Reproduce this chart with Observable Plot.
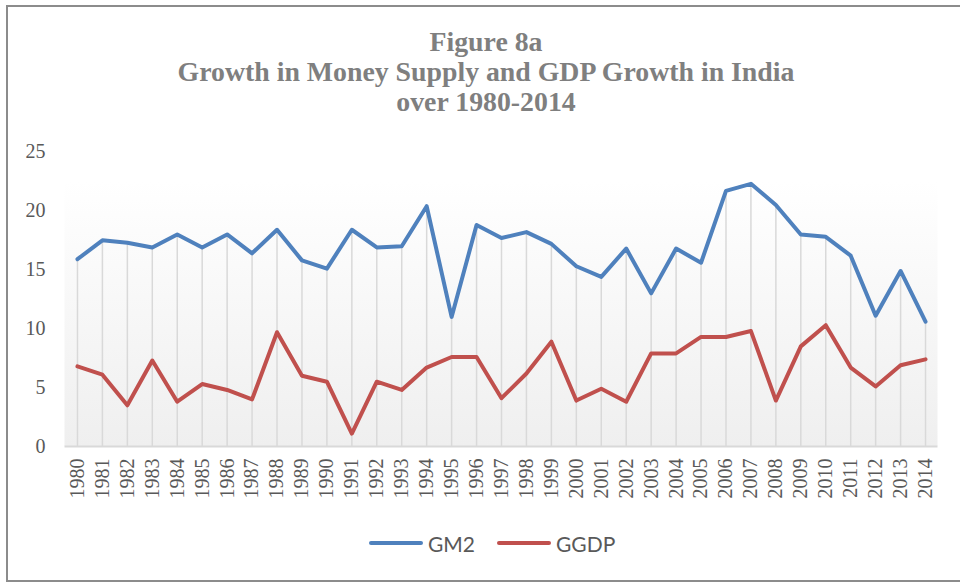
<!DOCTYPE html>
<html>
<head>
<meta charset="utf-8">
<script src="https://cdn.jsdelivr.net/npm/d3@7"></script>
<script src="https://cdn.jsdelivr.net/npm/@observablehq/plot@0.6"></script>
<style>
  html, body { margin: 0; padding: 0; background: #fff; width: 960px; height: 582px; overflow: hidden; }
  #frame { position: absolute; left: 6px; top: 5px; width: 980px; height: 577px; border: 2px solid #8c8c8c; box-sizing: border-box; }
  #title { position: absolute; left: 0; width: 972px; top: 27px; text-align: center; font-family: 'Liberation Serif'; font-weight: bold; font-size: 27.8px; line-height: 30px; color: #7f7f7f; }
  #chart { position: absolute; left: 0; top: 130px; }
  #chart svg text { font-family: 'Liberation Serif' !important; }
  #legend { position: absolute; top: 531px; left: 0; width: 960px; height: 24px; font-family: Lato, sans-serif; font-size: 21px; color: #595959; }
  .item { position: absolute; top: 0; display: flex; align-items: center; height: 24px; }
  .sw { display: inline-block; width: 54px; height: 4px; border-radius: 2px; margin-right: 5px; }
</style>
</head>
<body>
<div id="frame"></div>
<div id="title">Figure 8a<br>Growth in Money Supply and GDP Growth in India<br>over 1980-2014</div>
<div id="chart"></div>
<div id="legend"></div>
<script>
const years = [1980,1981,1982,1983,1984,1985,1986,1987,1988,1989,1990,1991,1992,1993,1994,1995,1996,1997,1998,1999,2000,2001,2002,2003,2004,2005,2006,2007,2008,2009,2010,2011,2012,2013,2014];
const gm2 = [15.9,17.5,17.3,16.9,18.0,16.9,18.0,16.4,18.4,15.8,15.1,18.4,16.9,17.0,20.4,11.0,18.8,17.7,18.2,17.2,15.3,14.4,16.8,13.0,16.8,15.6,21.7,22.3,20.5,18.0,17.8,16.2,11.1,14.9,10.6];
const ggdp = [6.8,6.1,3.5,7.3,3.8,5.3,4.8,4.0,9.7,6.0,5.5,1.1,5.5,4.8,6.7,7.6,7.6,4.1,6.2,8.9,3.9,4.9,3.8,7.9,7.9,9.3,9.3,9.8,3.9,8.5,10.3,6.7,5.1,6.9,7.4];
const seriesNames = ["GM2", "GGDP"];
const seriesColors = ["#4f81bd", "#c0504d"];
const yTicks = [0, 5, 10, 15, 20, 25];

const rows = years.map((y, i) => ({year: y, gm2: gm2[i], ggdp: ggdp[i]}));

const plot = Plot.plot({
  width: 960,
  height: 400,
  marginLeft: 64.5,
  marginRight: 22.5,
  marginTop: 21.5,
  marginBottom: 84,
  style: {background: "transparent", overflow: "visible", fontFamily: "Liberation Serif", fontSize: "20px"},
  x: {type: "linear", domain: [1979.5, 2014.5]},
  y: {domain: [0, 25]},
  marks: [
    Plot.rect([0], {x1: 1979.5, x2: 2014.5, y1: 0, y2: 25, fill: "url(#bgGrad)"}),
    Plot.ruleX(rows, {x: "year", y1: 0, y2: "gm2", stroke: "#d9d9d9", strokeWidth: 1.5}),
    Plot.ruleY([0], {x1: 1979.5, x2: 2014.5, stroke: "#d9d9d9", strokeWidth: 2}),
    Plot.axisY({ticks: yTicks, tickSize: 0, tickPadding: 19.5, label: null,
      fontSize: 20, fontFamily: "Liberation Serif", color: "#595959"}),
    Plot.axisX({ticks: years, tickFormat: d => String(d), tickSize: 0, tickPadding: 12, tickRotate: -90, label: null,
      fontSize: 20, fontFamily: "Liberation Serif", color: "#595959"}),
    Plot.lineY(rows, {x: "year", y: "ggdp", stroke: seriesColors[1], strokeWidth: 4, strokeLinejoin: "round", strokeLinecap: "round"}),
    Plot.lineY(rows, {x: "year", y: "gm2", stroke: seriesColors[0], strokeWidth: 4, strokeLinejoin: "round", strokeLinecap: "round"})
  ]
});

const svg = d3.select(plot);
const defs = svg.insert("defs", ":first-child");
const grad = defs.append("linearGradient").attr("id", "bgGrad").attr("x1", 0).attr("y1", 0).attr("x2", 0).attr("y2", 1);
grad.append("stop").attr("offset", "0%").attr("stop-color", "#ffffff");
grad.append("stop").attr("offset", "10%").attr("stop-color", "#ffffff");
grad.append("stop").attr("offset", "100%").attr("stop-color", "#efefef");
document.getElementById("chart").appendChild(plot);

const legend = document.getElementById("legend");
const lefts = [369, 497];
seriesNames.forEach((name, i) => {
  const item = document.createElement("div");
  item.className = "item";
  item.style.left = lefts[i] + "px";
  const sw = document.createElement("span");
  sw.className = "sw";
  sw.style.background = seriesColors[i];
  item.appendChild(sw);
  item.appendChild(document.createTextNode(name));
  legend.appendChild(item);
});
</script>
</body>
</html>
